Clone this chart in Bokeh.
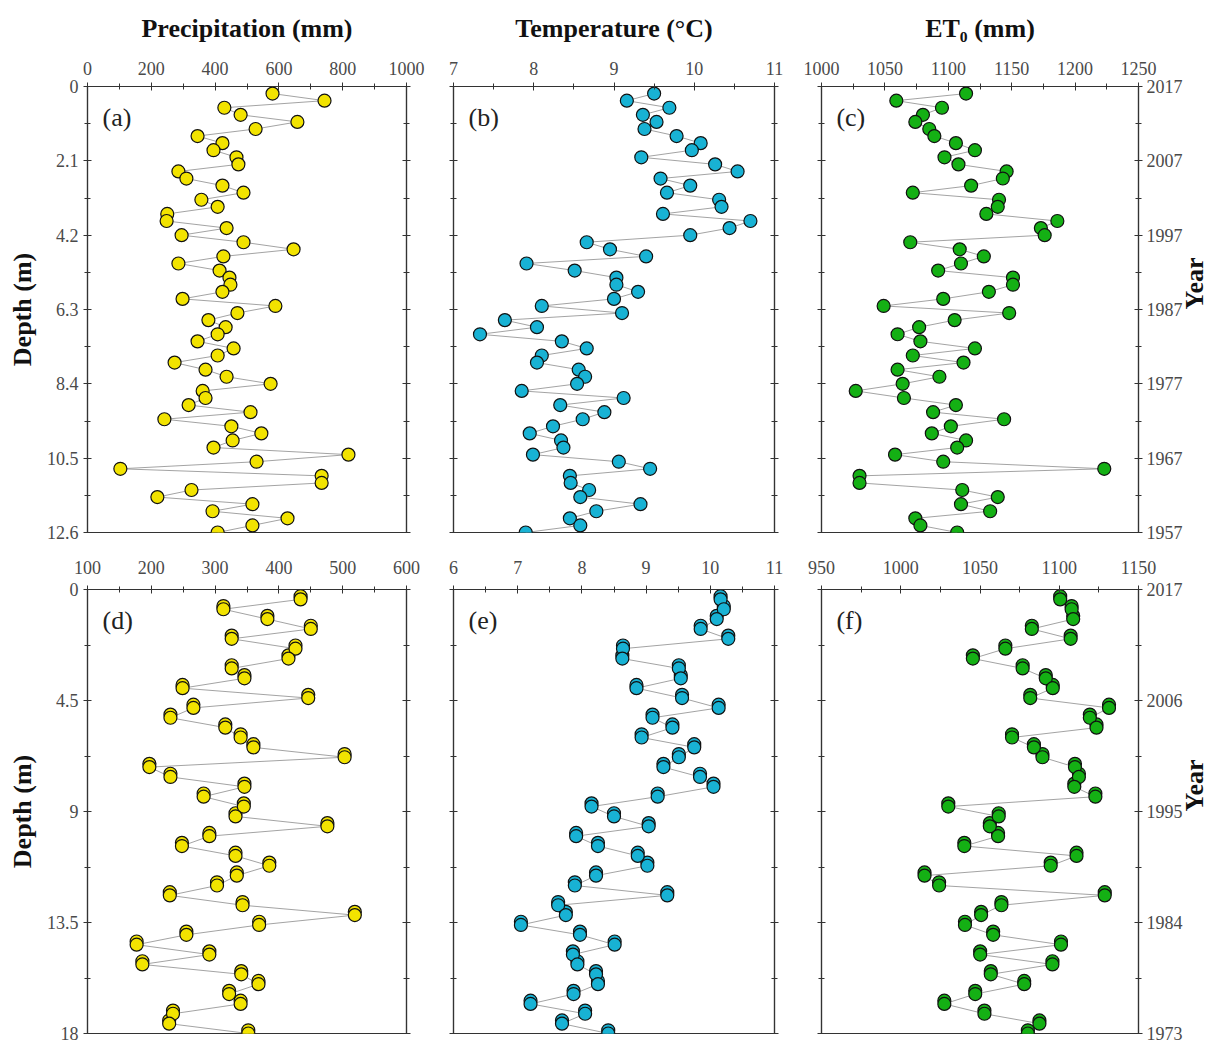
import math
from bokeh.plotting import figure
from bokeh.models import Range1d, LinearAxis, FixedTicker, Label, ColumnDataSource
from bokeh.layouts import row, column
from bokeh.transform import dodge
from bokeh.embed import file_html
from bokeh.resources import INLINE

# ---------------- data ----------------
# upper row: 2017-1957 core, samples every 0.2 m
depth_top = [round(0.2 * i, 1) for i in range(1, 64)]
precip_top = [580, 743, 429, 480, 658, 527, 345, 423, 395, 467,
              473, 285, 310, 423, 489, 357, 408, 250, 248, 436,
              295, 489, 646, 426, 285, 414, 445, 448, 423, 298,
              589, 470, 379, 433, 408, 345, 458, 408, 273, 370,
              436, 574, 361, 370, 317, 511, 241, 451, 545, 455,
              395, 818, 530, 103, 734, 734, 326, 219, 517, 392,
              627, 517, 408]
temp_top = [9.50, 9.16, 9.69, 9.36, 9.53, 9.38, 9.78, 10.08, 9.97, 9.34,
            10.26, 10.54, 9.58, 9.95, 9.66, 10.31, 10.34, 9.61, 10.70, 10.44,
            9.95, 8.66, 8.95, 9.40, 7.91, 8.51, 9.03, 9.03, 9.30, 9.00,
            8.10, 9.10, 7.64, 8.04, 7.33, 8.35, 8.66, 8.10, 8.04, 8.56,
            8.64, 8.54, 7.85, 9.12, 8.33, 8.88, 8.61, 8.24, 7.95, 8.34,
            8.37, 7.99, 9.06, 9.45, 8.45, 8.46, 8.69, 8.58, 9.33, 8.78,
            8.45, 8.58, 7.90]
et0_top = [1114, 1059, 1095, 1080, 1074, 1085, 1089, 1106, 1121, 1097,
           1108, 1146, 1143, 1118, 1072, 1140, 1139, 1130, 1186, 1173,
           1176, 1070, 1109, 1128, 1110, 1092, 1151, 1151, 1132, 1096,
           1049, 1148, 1105, 1077, 1060, 1078, 1121, 1072, 1112, 1060,
           1093, 1064, 1027, 1065, 1106, 1088, 1144, 1102, 1087, 1114,
           1107, 1058, 1096, 1223, 1030, 1030, 1111, 1139, 1110, 1133,
           1074, 1078, 1107]

# lower row: 2017-1973 core, samples every 0.4 m
depth_bot = [round(0.4 * i, 1) for i in range(1, 46)]
precip_bot = [434, 313, 382, 450, 326, 426, 415, 326, 346, 249,
              446, 266, 230, 316, 340, 360, 503, 197, 230, 346,
              282, 345, 332, 476, 291, 248, 332, 385, 334, 303,
              229, 343, 519, 369, 255, 177, 291, 186, 341, 368,
              322, 340, 234, 228, 352]
temp_bot = [10.16, 10.21, 10.10, 9.85, 10.28, 8.64, 8.63, 9.51, 9.54, 8.85,
            9.56, 10.13, 9.10, 9.41, 8.93, 9.75, 9.51, 9.27, 9.84, 10.05,
            9.18, 8.15, 8.50, 9.04, 7.91, 8.25, 8.87, 9.02, 8.22, 7.89,
            9.33, 7.63, 7.75, 7.05, 7.97, 8.51, 7.86, 7.93, 8.22, 8.25,
            7.87, 7.20, 8.05, 7.69, 8.41]
et0_bot = [1100.6, 1107.8, 1108.8, 1082.7, 1107.2, 1066.0, 1045.5, 1076.9, 1091.5, 1095.9,
           1081.7, 1131.4, 1119.3, 1123.5, 1070.2, 1084.0, 1089.4, 1109.9, 1112.4, 1109.5,
           1122.8, 1030.0, 1061.8, 1056.2, 1061.4, 1040.1, 1110.9, 1094.6, 1015.0, 1024.2,
           1128.7, 1063.5, 1050.7, 1040.5, 1058.3, 1101.1, 1050.1, 1095.7, 1056.8, 1077.9,
           1047.0, 1027.5, 1052.8, 1087.5, 1080.2]

# tick values / labels
depth_ticks_top = [0, 2.1, 4.2, 6.3, 8.4, 10.5, 12.6]
depth_labels_top = ["0", "2.1", "4.2", "6.3", "8.4", "10.5", "12.6"]
year_ticks_top = [2017, 2007, 1997, 1987, 1977, 1967, 1957]
depth_ticks_bot = [0, 4.5, 9, 13.5, 18]
depth_labels_bot = ["0", "4.5", "9", "13.5", "18"]
year_ticks_bot = [2017, 2006, 1995, 1984, 1973]

precip_ticks_top = [0, 200, 400, 600, 800, 1000]
temp_ticks_top = [7, 8, 9, 10, 11]
et0_ticks_top = [1000, 1050, 1100, 1150, 1200, 1250]
precip_ticks_bot = [100, 200, 300, 400, 500, 600]
temp_ticks_bot = [6, 7, 8, 9, 10, 11]
et0_ticks_bot = [950, 1000, 1050, 1100, 1150]

titles = ["Precipitation (mm)", "Temperature (°C)", "ET₀ (mm)"]
letters_top = ["(a)", "(b)", "(c)"]
letters_bot = ["(d)", "(e)", "(f)"]

# ---------------- style ----------------
FONT = "Liberation Serif"
TICK_COLOR = "#4a4a4a"
AXIS_COLOR = "#333333"
YELLOW = "#F2E300"
CYAN = "#18B2D4"
GREEN = "#14B014"


def mids(t):
    return [(a + b) / 2 for a, b in zip(t[:-1], t[1:])]


def style_axis(ax, size="18px"):
    ax.axis_line_color = AXIS_COLOR
    ax.axis_line_width = 1.2
    ax.major_tick_line_color = AXIS_COLOR
    ax.minor_tick_line_color = AXIS_COLOR
    ax.major_tick_in = 4
    ax.major_tick_out = 4
    ax.minor_tick_in = 3
    ax.minor_tick_out = 3
    ax.major_label_text_font = FONT
    ax.major_label_text_font_size = size
    ax.major_label_text_color = TICK_COLOR
    ax.axis_label_text_font = FONT
    ax.axis_label_text_font_style = "bold"
    ax.axis_label_text_font_size = "26px"
    ax.axis_label_text_color = "#111111"


def panel(xvals, depth, xticks, ymax, dticks, dlabels, yticks, fill, letter,
          w, h, bl, br, bt, bb, frame_w, frame_h, title=None, show_depth=False,
          show_year=False, doubled=False, xstandoff=5):
    p = figure(width=w, height=h,
               x_range=Range1d(xticks[0], xticks[-1]), y_range=Range1d(ymax, 0),
               x_axis_location="above", toolbar_location=None, tools="",
               output_backend="svg",
               min_border_left=bl, min_border_right=br,
               min_border_top=bt, min_border_bottom=bb)
    p.grid.visible = False
    p.outline_line_color = AXIS_COLOR
    p.outline_line_width = 1.2
    p.background_fill_color = "white"
    p.border_fill_color = "white"

    # top x axis
    xa = p.xaxis[0]
    style_axis(xa)
    xa.ticker = FixedTicker(ticks=xticks, minor_ticks=mids(xticks))
    xa.major_label_overrides = {t: str(t) for t in xticks}
    xa.major_label_standoff = xstandoff
    if title:
        xa.axis_label = title
        xa.axis_label_standoff = 16

    # left depth axis
    ya = p.yaxis[0]
    style_axis(ya)
    ya.ticker = FixedTicker(ticks=dticks, minor_ticks=mids(dticks))
    ya.major_label_standoff = 5
    if show_depth:
        ya.major_label_overrides = dict(zip(dticks, dlabels))
        ya.axis_label = "Depth (m)"
        ya.axis_label_standoff = 7
    else:
        ya.major_label_overrides = {t: "" for t in dticks}

    span = xticks[-1] - xticks[0]
    # right axis
    if show_year:
        p.extra_y_ranges = {"yr": Range1d(start=yticks[-1], end=yticks[0])}
        ra = LinearAxis(y_range_name="yr")
        style_axis(ra)
        ra.ticker = FixedTicker(ticks=yticks, minor_ticks=mids(yticks))
        ra.major_label_overrides = {t: str(t) for t in yticks}
        ra.major_label_standoff = 4
        ra.axis_label = "Year"
        ra.axis_label_standoff = 9
        ra.axis_label_orientation = math.pi / 2
    else:
        ra = LinearAxis()
        style_axis(ra)
        ra.ticker = FixedTicker(ticks=dticks, minor_ticks=mids(dticks))
        ra.major_label_overrides = {t: "" for t in dticks}
        ra.major_label_standoff = 2
    p.add_layout(ra, "right")

    src = ColumnDataSource(dict(x=xvals, d=depth))
    p.line("x", "d", source=src, line_color="#8c8c8c", line_width=0.8)
    if doubled:
        p.scatter("x", dodge("d", -0.13, range=p.y_range), source=src, size=13,
                  fill_color=fill, line_color="#111111", line_width=1.2)
    p.scatter("x", "d", source=src, size=13, fill_color=fill,
              line_color="#111111", line_width=1.2)

    p.add_layout(Label(x=xticks[0] + span * 15 / frame_w, y=ymax * 31 / frame_h, text=letter,
                       text_font=FONT, text_font_size="26px", text_color="#222222",
                       text_baseline="middle", text_align="left"))
    return p


# widths / borders per column: (width, border_left, border_right, frame_width)
COLS = [(426, 87, 20, 319), (368, 27, 20, 321), (432, 27, 86, 319)]
# heights / borders per row: (height, border_top, border_bottom, frame_height)
TOP = (547, 86, 15, 446)
BOT = (498, 42, 12, 444)

top_x = [precip_top, temp_top, et0_top]
top_t = [precip_ticks_top, temp_ticks_top, et0_ticks_top]
bot_x = [precip_bot, temp_bot, et0_bot]
bot_t = [precip_ticks_bot, temp_ticks_bot, et0_ticks_bot]
fills = [YELLOW, CYAN, GREEN]

top_figs = []
bot_figs = []
for i in range(3):
    w, bl, br, fw = COLS[i]
    top_figs.append(panel(top_x[i], depth_top, top_t[i], 12.6, depth_ticks_top,
                          depth_labels_top, year_ticks_top, fills[i], letters_top[i],
                          w, TOP[0], bl, br, TOP[1], TOP[2], fw, TOP[3], title=titles[i],
                          show_depth=(i == 0), show_year=(i == 2), xstandoff=8))
    bot_figs.append(panel(bot_x[i], depth_bot, bot_t[i], 18, depth_ticks_bot,
                          depth_labels_bot, year_ticks_bot, fills[i], letters_bot[i],
                          w, BOT[0], bl, br, BOT[1], BOT[2], fw, BOT[3],
                          show_depth=(i == 0), show_year=(i == 2), doubled=True,
                          xstandoff=12))

layout = column(row(*top_figs), row(*bot_figs))
open("out.html", "w").write(file_html(layout, INLINE))
